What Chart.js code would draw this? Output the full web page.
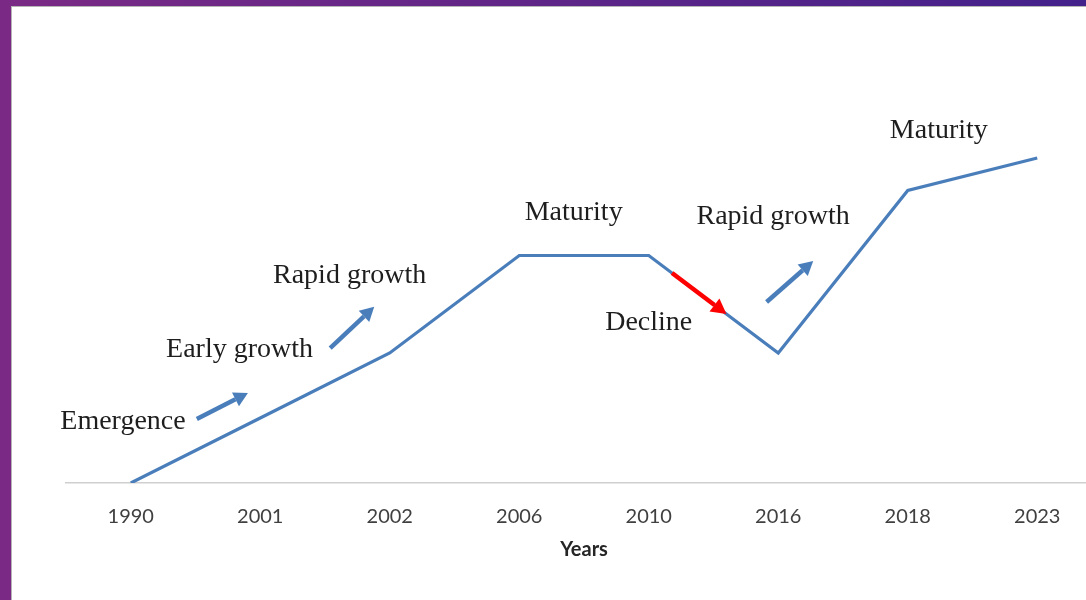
<!DOCTYPE html>
<html>
<head>
<meta charset="utf-8">
<script src="https://cdn.jsdelivr.net/npm/chart.js@4/dist/chart.umd.min.js"></script>
<style>
  html, body { margin: 0; padding: 0; background: #fff; overflow: hidden; }
  #wrap { position: relative; width: 1086px; height: 600px; overflow: hidden; }
  #chart { position: absolute; left: 0; top: 0; }
  .edge { position: absolute; }
  #left { left: 0; top: 0; width: 11px; height: 600px; background: #7a2a85; }
  #top { left: 0; top: 0; width: 1086px; height: 6px; background: linear-gradient(90deg, #7a2a85, #43218b); }
  #leftLine { left: 11px; top: 6px; width: 1px; height: 594px; background: #b5b5b5; }
  #topLine { left: 11px; top: 6px; width: 1075px; height: 1px; background: #b5b5b5; }
</style>
</head>
<body>
<div id="wrap">
  <canvas id="chart" width="1102" height="600"></canvas>
  <div class="edge" id="leftLine"></div>
  <div class="edge" id="topLine"></div>
  <div class="edge" id="left"></div>
  <div class="edge" id="top"></div>
</div>
<script>
const years = ["1990", "2001", "2002", "2006", "2010", "2016", "2018", "2023"]
const level = [0, 2, 4, 7, 7, 4, 9, 10]

// stage labels, anchored in data units (category index, level)
const stageNames = ["Emergence", "Early growth", "Rapid growth", "Maturity", "Decline", "Rapid growth", "Maturity"]
const stageX = [-0.06, 0.84, 1.69, 3.42, 4.0, 4.96, 6.24]
const stageY = [1.9, 4.11, 6.39, 8.33, 4.93, 8.21, 10.83]

// blue trend arrows (from -> to, data units)
const arrowFromX = [0.51, 1.54, 4.91]
const arrowFromY = [1.97, 4.15, 5.57]
const arrowToX = [0.905, 1.88, 5.27]
const arrowToY = [2.77, 5.42, 6.83]

// red decline arrow runs along the 2010 -> 2016 segment
const declineSegment = 4
const declineFrom = 0.18
const declineTo = 0.6

function drawArrow(ctx, x1, y1, x2, y2, color, width, head) {
  const ang = Math.atan2(y2 - y1, x2 - x1)
  const bx = x2 - Math.cos(ang) * head
  const by = y2 - Math.sin(ang) * head
  ctx.save()
  ctx.strokeStyle = color
  ctx.fillStyle = color
  ctx.lineWidth = width
  ctx.lineCap = "butt"
  ctx.beginPath()
  ctx.moveTo(x1, y1)
  ctx.lineTo(bx, by)
  ctx.stroke()
  ctx.beginPath()
  ctx.moveTo(x2, y2)
  ctx.lineTo(bx + Math.sin(ang) * head * 0.55, by - Math.cos(ang) * head * 0.55)
  ctx.lineTo(bx - Math.sin(ang) * head * 0.55, by + Math.cos(ang) * head * 0.55)
  ctx.closePath()
  ctx.fill()
  ctx.restore()
}

const stagePlugin = {
  id: "stages",
  afterDatasetsDraw(chart) {
    const { ctx, scales: { x, y } } = chart

    const i = declineSegment
    const lx = t => x.getPixelForValue(i + t)
    const ly = t => y.getPixelForValue(level[i] + (level[i + 1] - level[i]) * t)
    drawArrow(ctx, lx(declineFrom), ly(declineFrom), lx(declineTo), ly(declineTo), "#ff0000", 4.5, 15)

    arrowFromX.forEach((fx, k) => {
      drawArrow(ctx,
        x.getPixelForValue(fx), y.getPixelForValue(arrowFromY[k]),
        x.getPixelForValue(arrowToX[k]), y.getPixelForValue(arrowToY[k]),
        "#4a7ebb", 4.5, 14)
    })

    ctx.save()
    ctx.font = "28px 'Liberation Serif', 'Times New Roman', serif"
    ctx.fillStyle = "#1e1e1e"
    ctx.textAlign = "center"
    ctx.textBaseline = "middle"
    stageNames.forEach((name, k) => {
      ctx.fillText(name, x.getPixelForValue(stageX[k]), y.getPixelForValue(stageY[k]))
    })
    ctx.restore()
  }
}

new Chart(document.getElementById("chart"), {
  type: "line",
  data: {
    labels: years,
    datasets: [{
      data: level,
      borderColor: "#4a7ebb",
      borderWidth: 3.2,
      pointRadius: 0,
      tension: 0,
      fill: false
    }]
  },
  options: {
    responsive: false,
    animation: false,
    layout: { padding: { left: 66, top: 28, right: 0, bottom: 0 } },
    scales: {
      x: {
        offset: true,
        grid: { display: false, drawTicks: false },
        border: { display: true, color: "#cfcfcf", width: 1.5 },
        ticks: {
          padding: 22,
          color: "#404040",
          font: { family: "Lato", size: 20 }
        },
        title: {
          display: true,
          text: "Years",
          color: "#262626",
          font: { family: "Lato", size: 20, weight: "bold" },
          padding: { top: 0, bottom: 38 }
        },
        afterFit(scale) { scale.height = 117 }
      },
      y: {
        display: false,
        min: 0,
        max: 14
      }
    },
    plugins: {
      legend: { display: false },
      tooltip: { enabled: false }
    }
  },
  plugins: [stagePlugin]
})
</script>
</body>
</html>
